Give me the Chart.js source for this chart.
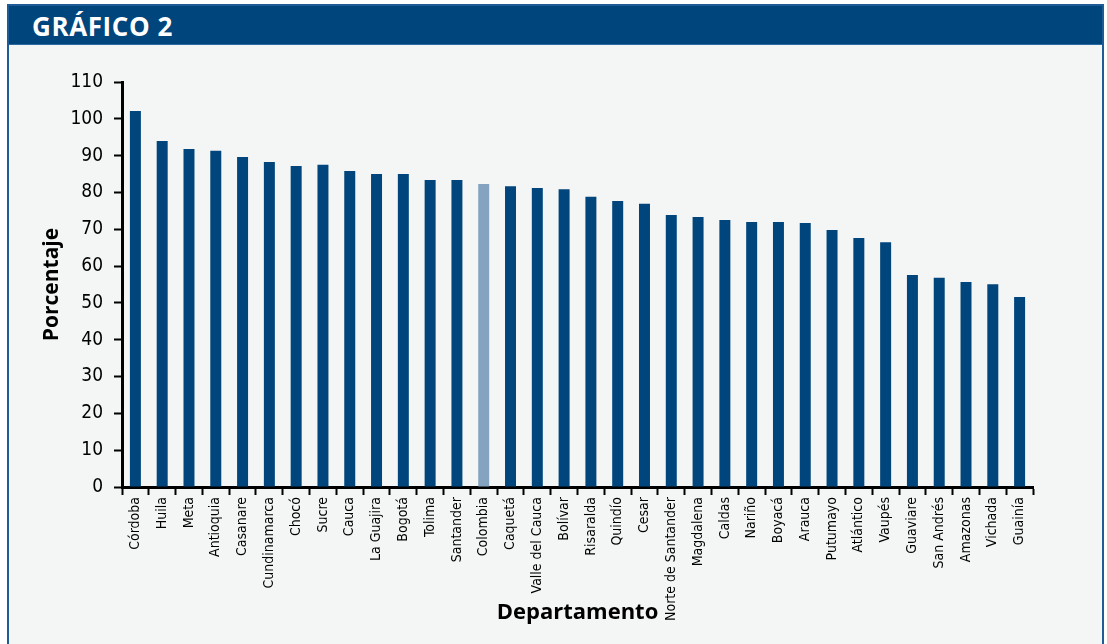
<!DOCTYPE html>
<html>
<head>
<meta charset="utf-8">
<script src="https://cdn.jsdelivr.net/npm/chart.js@4/dist/chart.umd.min.js"></script>
<style>
  html, body { margin: 0; padding: 0; background: #ffffff; }
  #wrap { position: relative; width: 1107px; height: 644px; overflow: hidden; }
  #panel { position: absolute; left: 7px; top: 4px; width: 1097px; height: 700px; background: #f4f6f5; border: 2px solid #1f5c95; box-sizing: border-box; }
  #header { position: absolute; left: 0; top: 0; right: 0; height: 38px; background: #00457c; border-bottom: 1px solid #2a6aa0; }
  #header span { position: absolute; left: 23px; top: 2px; color: #ffffff; font-family: "Open Sans", sans-serif; font-weight: 700; font-size: 26px; letter-spacing: 0.6px; }
  #c { position: absolute; left: 0; top: 0; }
</style>
</head>
<body>
<div id="wrap">
  <div id="panel"><div id="header"><span>GRÁFICO 2</span></div></div>
  <canvas id="c" width="1107" height="644"></canvas>
</div>
<script>
const categories = ["Córdoba","Huila","Meta","Antioquia","Casanare","Cundinamarca","Chocó","Sucre","Cauca","La Guajira","Bogotá","Tolima","Santander","Colombia","Caquetá","Valle del Cauca","Bolívar","Risaralda","Quindío","Cesar","Norte de Santander","Magdalena","Caldas","Nariño","Boyacá","Arauca","Putumayo","Atlántico","Vaupés","Guaviare","San Andrés","Amazonas","Vichada","Guainía"];
const values = [102.1,94.0,91.8,91.3,89.6,88.3,87.2,87.5,85.8,85.0,85.0,83.4,83.4,82.3,81.7,81.2,80.9,78.8,77.7,76.9,73.9,73.3,72.5,72.0,72.0,71.7,69.8,67.6,66.5,57.6,56.8,55.7,55.1,51.6];
const highlightCategory = "Colombia";
const yTickMin = 0, yTickMax = 110, yTickStep = 10;
const xTitle = "Departamento";
const yTitle = "Porcentaje";

const mainColor = "#00457c";
const highlightColor = "#84a3c0";
const narrow = "'DejaVu Sans Condensed', 'Liberation Sans Narrow', 'DejaVu Sans', sans-serif";

new Chart(document.getElementById('c'), {
  type: 'bar',
  data: {
    labels: categories,
    datasets: [{
      data: values,
      backgroundColor: categories.map(c => c === highlightCategory ? highlightColor : mainColor),
      borderWidth: 0,
      barPercentage: 0.82,
      categoryPercentage: 0.5
    }]
  },
  options: {
    responsive: false,
    animation: false,
    devicePixelRatio: 1,
    layout: { padding: { left: 0, top: 82, right: 74, bottom: 0 } },
    plugins: { legend: { display: false }, tooltip: { enabled: false } },
    scales: {
      x: {
        grid: { display: true, drawOnChartArea: false, drawTicks: true, tickLength: 8, tickColor: '#000', tickWidth: 2, offset: true },
        border: { display: true, color: '#000', width: 3 },
        ticks: { autoSkip: false, minRotation: 90, maxRotation: 90, color: '#000', padding: 2, font: { family: narrow, size: 14 } },
        title: { display: true, text: xTitle, color: '#000', font: { family: "'Open Sans', sans-serif", weight: 'bold', size: 22 }, padding: { top: 0, bottom: 18 } },
        afterFit: s => { s.height = 157; }
      },
      y: {
        min: yTickMin, max: yTickMax,
        grid: { display: true, drawOnChartArea: false, drawTicks: true, tickLength: 8, tickColor: '#000', tickWidth: 2 },
        border: { display: true, color: '#000', width: 3 },
        ticks: { stepSize: yTickStep, color: '#000', padding: 11, font: { family: narrow, size: 19 } },
        title: { display: true, text: yTitle, color: '#000', font: { family: "'Open Sans', sans-serif", weight: 'bold', size: 21 }, padding: { top: 39, bottom: 0 } },
        afterFit: s => { s.width = 122; }
      }
    }
  }
});
</script>
</body>
</html>
